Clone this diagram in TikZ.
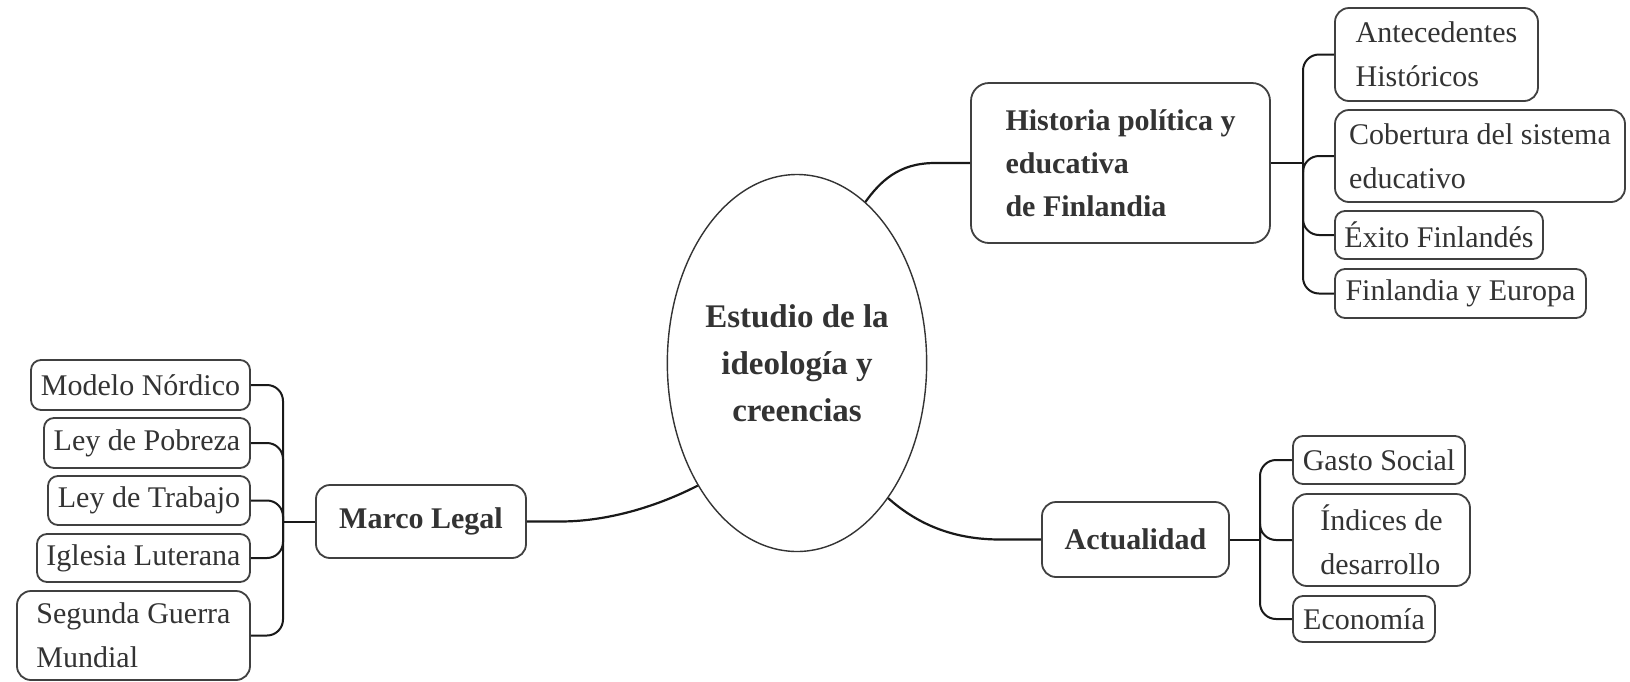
\documentclass[tikz,border=0pt]{standalone}
\usepackage{fontspec}
\setmainfont{Liberation Serif}
\usetikzlibrary{shapes.geometric}
\tikzset{
  box/.style={draw=black!75, line width=0.9pt, rounded corners=5pt, fill=white,
    text=black!80, inner sep=2pt, font=\fontsize{15}{22}\selectfont},
  bigbox/.style={box, rounded corners=9pt, font=\bfseries\fontsize{15}{21.5}\selectfont},
  conn/.style={draw=black!90, line width=1pt, rounded corners=8pt},
  mainconn/.style={draw=black!90, line width=1.1pt},
}
\begin{document}
\begin{tikzpicture}[x=0.5pt, y=-0.5pt]
\fill[white] (0,0) rectangle (1630,681);
\useasboundingbox (0,0) rectangle (1630,681);

% central ellipse
\node[ellipse, draw=black!80, line width=0.7pt, minimum width=121pt, minimum height=188.5pt,
  inner sep=0pt, align=center, text=black!80,
  font=\bfseries\fontsize{16.5}{23.5}\selectfont] (E) at (797,363)
  {Estudio de la\\ideología y\\creencias};

% main branches
\node[bigbox, minimum width=149.5pt, minimum height=80pt, align=left] (hist) at (1120.5,163)
  {Historia política y\\educativa\\de Finlandia};
\node[bigbox, rounded corners=7pt, minimum width=105pt, minimum height=36.5pt] (marco) at (421,521.5) {Marco Legal};
\node[bigbox, rounded corners=7pt, minimum width=93.5pt, minimum height=37.5pt] (act) at (1135.5,539.5) {Actualidad};

% Historia children
\node[box, rounded corners=7pt, minimum width=101.5pt, minimum height=46.5pt, inner xsep=6pt,
  align=left] (ant) at (1436.5,54.5) {Antecedentes\\Históricos};
\node[box, rounded corners=7pt, minimum width=145pt, minimum height=46pt, inner xsep=6pt,
  align=left] (cob) at (1480,156) {Cobertura del sistema\\educativo};
\node[box, minimum width=104pt, minimum height=24pt] (exi) at (1439,235) {Éxito Finlandés};
\node[box, minimum width=125.5pt, minimum height=24.5pt] (fye) at (1460.5,293.5) {Finlandia y Europa};

% Actualidad children
\node[box, minimum width=86pt, minimum height=24pt] (gas) at (1379,460) {Gasto Social};
\node[box, rounded corners=7pt, minimum width=88.5pt, minimum height=46pt, inner xsep=6pt,
  align=left] (ind) at (1381.5,540) {Índices de\\desarrollo};
\node[box, minimum width=71pt, minimum height=23pt] (eco) at (1364,619) {Economía};

% Marco Legal children
\node[box, minimum width=109.5pt, minimum height=25pt] (mod) at (140.5,385) {Modelo Nórdico};
\node[box, minimum width=103pt, minimum height=25pt] (pob) at (147,443) {Ley de Pobreza};
\node[box, minimum width=101pt, minimum height=24.5pt] (tra) at (149,500.5) {Ley de Trabajo};
\node[box, minimum width=106.5pt, minimum height=24pt] (igl) at (143.5,558) {Iglesia Luterana};
\node[box, rounded corners=7pt, minimum width=116.5pt, minimum height=44.5pt, inner xsep=6pt,
  align=left] (seg) at (133.5,635.5) {Segunda Guerra\\Mundial};

% connectors from the ellipse
\coordinate (h1) at (935,163);
\coordinate (m1) at (560,521.5);
\coordinate (a1) at (1000,539.5);
\draw[mainconn] (E.67) .. controls (880,182) and (898,163) .. (h1) -- (hist.west);
\draw[mainconn] (marco.east) -- (m1) .. controls (610,521.5) and (660,505) .. (E.231);
\draw[mainconn] (E.-56) .. controls (915,522) and (950,539.5) .. (a1) -- (act.west);

% child connectors
\coordinate (JH) at (1303,163);
\draw[conn] (hist.east) -- (JH);
\foreach \c in {ant,cob,exi,fye} \draw[conn] (JH) |- (\c.west);

\coordinate (JA) at (1260,539.5);
\draw[conn] (act.east) -- (JA);
\foreach \c in {gas,ind,eco} \draw[conn] (JA) |- (\c.west);

\coordinate (JM) at (283,521.5);
\draw[conn] (marco.west) -- (JM);
\foreach \c in {mod,pob,tra,igl,seg} \draw[conn] (JM) |- (\c.east);
\end{tikzpicture}
\end{document}
